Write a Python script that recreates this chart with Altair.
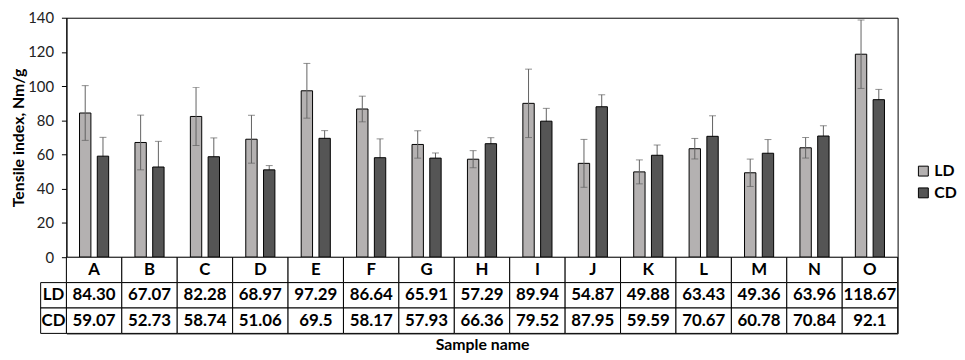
import altair as alt
import pandas as pd

samples = list("ABCDEFGHIJKLMNO")
series = ["LD", "CD"]
ld_vals = [84.30, 67.07, 82.28, 68.97, 97.29, 86.64, 65.91, 57.29, 89.94, 54.87, 49.88, 63.43, 49.36, 63.96, 118.67]
cd_vals = [59.07, 52.73, 58.74, 51.06, 69.5, 58.17, 57.93, 66.36, 79.52, 87.95, 59.59, 70.67, 60.78, 70.84, 92.1]
ld_err = [16, 16, 17, 14, 16, 7.5, 8, 5, 20, 14, 7, 6, 8, 6, 20]
cd_err = [11, 15, 11, 2.5, 4.5, 11, 3, 3.5, 7.5, 7, 6, 12, 8, 6, 6]
y_ticks = [0, 20, 40, 60, 80, 100, 120, 140]
row_names = ["Sample", "LD", "CD"]

recs = []
for s, v, e in zip(samples, ld_vals, ld_err):
    recs.append({"sample": s, "series": "LD", "value": v, "lo": v - e, "hi": v + e})
for s, v, e in zip(samples, cd_vals, cd_err):
    recs.append({"sample": s, "series": "CD", "value": v, "lo": v - e, "hi": v + e})
bars_df = pd.DataFrame(recs)

trecs = []
for s, a, b in zip(samples, ld_vals, cd_vals):
    trecs.append({"sample": s, "row": "Sample", "label": s})
    trecs.append({"sample": s, "row": "LD", "label": f"{a:.2f}"})
    trecs.append({"sample": s, "row": "CD", "label": str(b)})
table_df = pd.DataFrame(trecs)
left_df = pd.DataFrame({"row": ["LD", "CD"]})

FONT = "Lato"
YTITLE = "Tensile index, Nm/g"
ERR_COLOR = "#616161"

x_enc = alt.X("sample:N", sort=samples, scale=alt.Scale(domain=samples, paddingInner=0, paddingOuter=0),
              axis=None)
xoff = alt.XOffset("series:N", sort=series,
                   scale=alt.Scale(domain=series, paddingInner=0.36, paddingOuter=0.74))


def yenc(field):
    return alt.Y(f"{field}:Q", scale=alt.Scale(domain=[0, 140]),
                 axis=alt.Axis(values=y_ticks, grid=False, title=YTITLE, tickSize=5, tickColor="black",
                               domainColor="black", labelFontSize=15, labelColor="#222",
                               labelPadding=8, titleFontSize=16, titleFontWeight="bold",
                               titleColor="black", titlePadding=1))


color = alt.Color("series:N", sort=series,
                  scale=alt.Scale(domain=series, range=["#b4b1b1", "#555555"]),
                  legend=alt.Legend(title=None, orient="none", legendX=858, legendY=147, padding=0,
                                    symbolType="square", symbolSize=100, symbolStrokeColor="black",
                                    symbolStrokeWidth=1, symbolOpacity=1, labelFontSize=16,
                                    labelFontWeight="bold", labelColor="black", rowPadding=6,
                                    labelOffset=3))

base = alt.Chart(bars_df)
ld_bars = base.transform_filter("datum.series == 'LD'").mark_bar(stroke="black", strokeWidth=1).encode(
    x=x_enc, xOffset=xoff, y=yenc("value"), color=color)
cd_bars = base.transform_filter("datum.series == 'CD'").mark_bar(stroke="black", strokeWidth=1).encode(
    x=x_enc, xOffset=xoff, y=yenc("value"), color=color)
err_rule = base.mark_rule(color=ERR_COLOR, strokeWidth=1).encode(
    x=x_enc, xOffset=xoff, y=yenc("lo"), y2="hi:Q")
cap_hi = base.mark_tick(color=ERR_COLOR, size=7, thickness=1, orient="horizontal").encode(
    x=x_enc, xOffset=xoff, y=yenc("hi"))
cap_lo = base.mark_tick(color=ERR_COLOR, size=7, thickness=1, orient="horizontal").encode(
    x=x_enc, xOffset=xoff, y=yenc("lo"))

top = alt.layer(ld_bars, err_rule, cap_hi, cap_lo, cd_bars).properties(width=840, height=242)

tx = alt.X("sample:N", sort=samples, scale=alt.Scale(domain=samples, paddingInner=0, paddingOuter=0),
           axis=alt.Axis(labels=False, ticks=False, domain=False, title="Sample name",
                         titleFontSize=16, titleFontWeight="bold", titleColor="black", titlePadding=3))
ty = alt.Y("row:N", sort=row_names, scale=alt.Scale(domain=row_names, paddingInner=0, paddingOuter=0),
           axis=None)

cells = alt.Chart(table_df).mark_rect(fill="white", stroke="black", strokeWidth=1).encode(x=tx, y=ty)
texts = alt.Chart(table_df).mark_text(fontSize=17, fontWeight="bold", color="black", font=FONT).encode(
    x=tx, y=ty, text="label:N")
left_cells = alt.Chart(left_df).mark_rect(fill="white", stroke="black", strokeWidth=1).encode(
    x=alt.value(-26), x2=alt.value(0), y=ty)
left_texts = alt.Chart(left_df).mark_text(fontSize=17, fontWeight="bold", color="black", font=FONT).encode(
    x=alt.value(-13), y=ty, text="row:N")

table = alt.layer(cells, texts, left_cells, left_texts).properties(width=840, height=77)

chart = alt.vconcat(top, table, spacing=0, bounds="flush").properties(
    padding={"left": 2, "top": 0, "right": 0, "bottom": 0}
).configure(font=FONT).configure_view(stroke="black", strokeWidth=1).configure_concat(spacing=0)

chart.save("out.html", embed_options={"renderer": "svg", "actions": False})
